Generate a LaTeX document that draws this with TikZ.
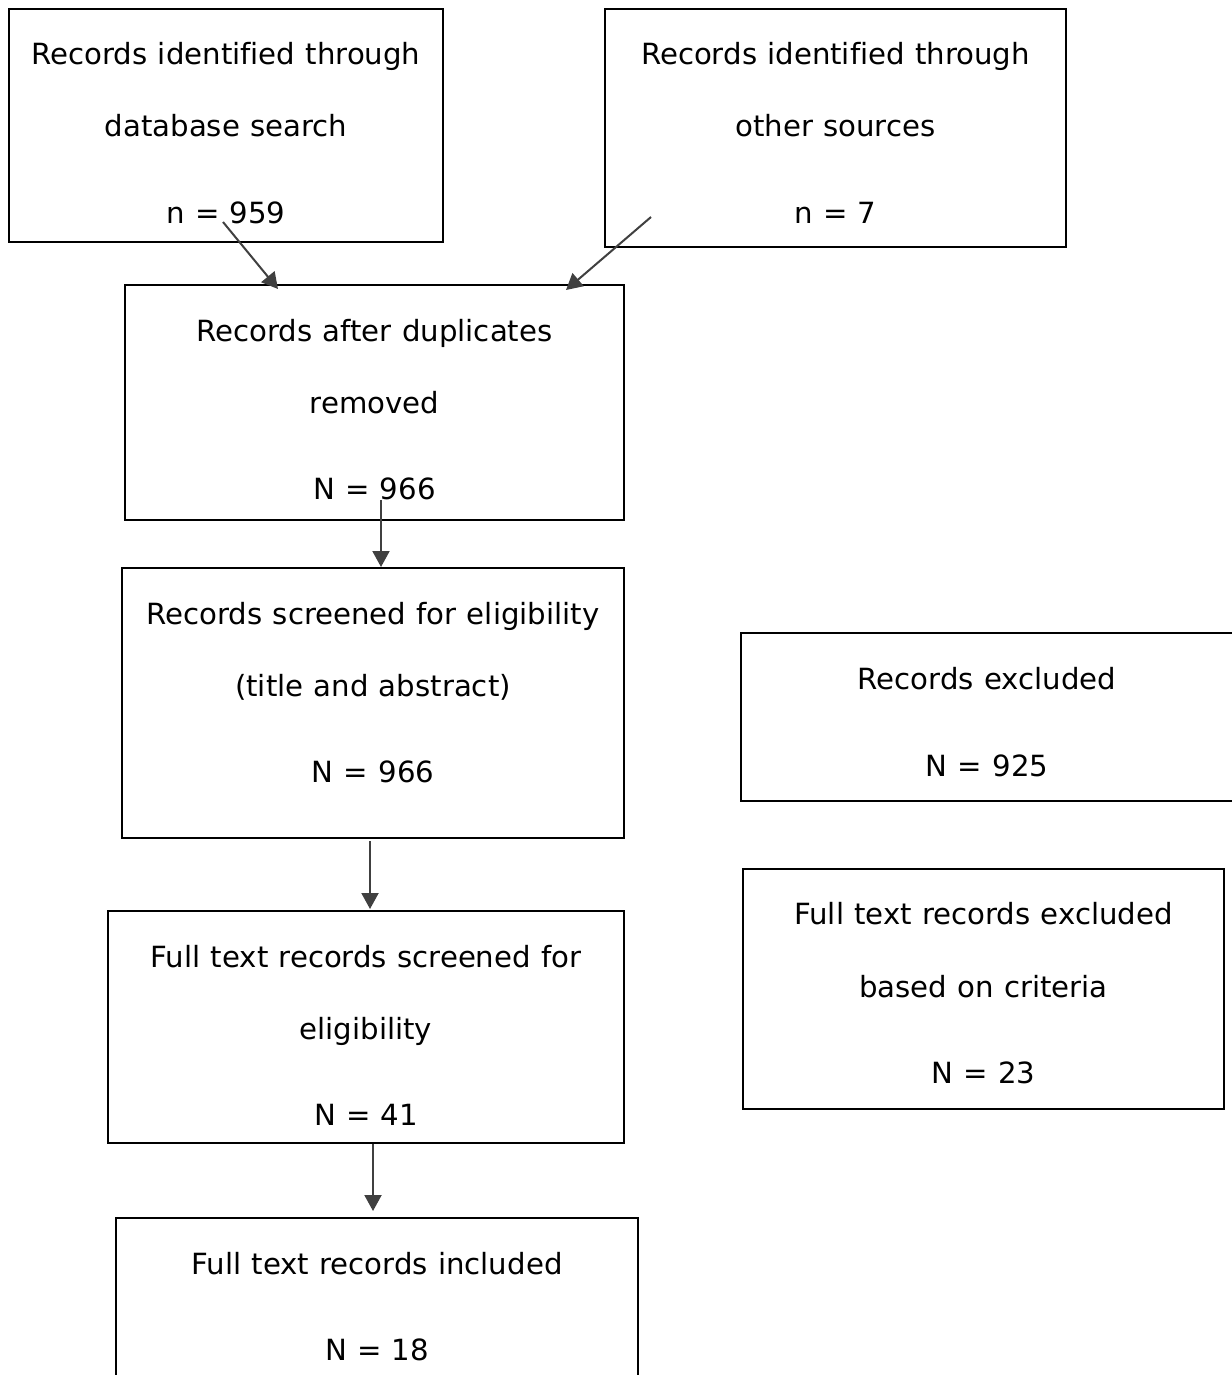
\documentclass[tikz,border=0pt]{standalone}
\usepackage{fontspec}
\setmainfont[Ligatures=NoCommon,WordSpace=1.1]{DejaVu Sans}
\usetikzlibrary{arrows.meta,calc}
\tikzset{
  box/.style={draw=black,line width=1.3pt,inner sep=0pt,outer sep=0pt,anchor=north west},
  txt/.style={anchor=base,inner sep=0pt,font=\fontsize{29.2}{34}\selectfont},
  arr/.style={draw={rgb,255:red,64;green,64;blue,64},line width=2pt,-{Triangle[length=16pt,width=17pt]}}
}
\begin{document}
\begin{tikzpicture}[x=1pt,y=-1pt]
    \useasboundingbox (0,0) rectangle (1231,1375);
    \foreach \name/\x/\y/\w/\h in {db/9/9/434/233, other/605/9/461/238, dup/125/285/499/235,
      screened/122/568/502/270, ftscreen/108/911/516/232, included/116/1218/522/170,
      excluded/741/633/492/168, ftexcl/743/869/481/240}
      {\node[box,minimum width=\w pt,minimum height=\h pt] (\name) at (\x,\y) {};}
    \foreach \b/\dy/\t in {db/56/Records identified through, db/128/database search, db/214/n = 959,
      other/56/Records identified through, other/128/other sources, other/214/n = 7,
      dup/56/Records after duplicates, dup/128/removed, dup/214/N = 966,
      screened/56/Records screened for eligibility, screened/128/(title and abstract), screened/214/N = 966,
      ftscreen/56/Full text records screened for, ftscreen/128/eligibility, ftscreen/214/N = 41,
      included/56/Full text records included, included/142/N = 18,
      excluded/56/Records excluded, excluded/143/N = 925,
      ftexcl/55/Full text records excluded, ftexcl/128/based on criteria, ftexcl/214/N = 23}
      {\node[txt] at ([yshift=-\dy pt]\b.north) {\t};}
    \draw[arr] ($(db.north west)+(214,213)$) -- ($(dup.north west)+(153,4)$);
    \draw[arr] ($(other.north west)+(46,208)$) -- ($(dup.north west)+(441,5)$);
    \draw[arr] ($(dup.north west)+(256,215)$) -- ($(screened.north west)+(259,-1)$);
    \draw[arr] ($(screened.south west)+(248,3)$) -- ($(ftscreen.north west)+(262,-2)$);
    \draw[arr] ($(ftscreen.south west)+(265,1)$) -- ($(included.north west)+(257,-7)$);
\end{tikzpicture}
\end{document}
